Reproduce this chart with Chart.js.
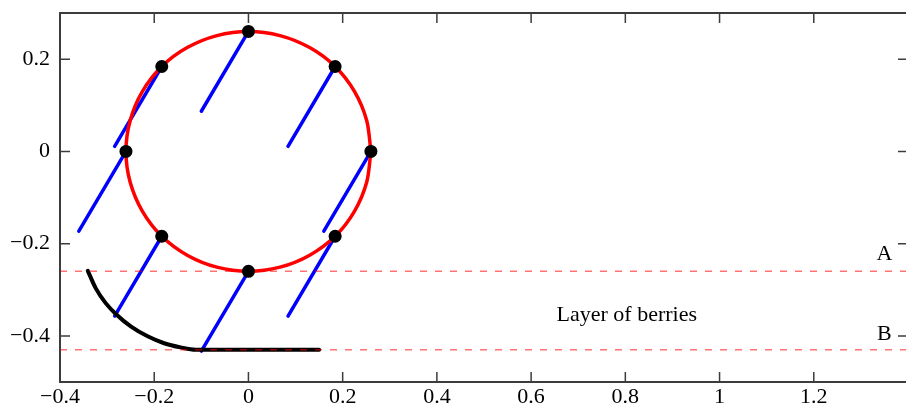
<!DOCTYPE html>
<html>
<head>
<meta charset="utf-8">
<title>Layer of berries</title>
<script src="https://cdn.jsdelivr.net/npm/chart.js@4.4.1/dist/chart.umd.min.js"></script>
<style>
  html, body { margin: 0; padding: 0; background: #fff; overflow: hidden; }
  #wrap { width: 906px; height: 408px; overflow: hidden; }
</style>
</head>
<body>
<div id="wrap"><canvas id="chart" width="916" height="408"></canvas></div>
<script>
// circle outline (radius 0.26), every 15 degrees
const circleX = [0.26, 0.251, 0.225, 0.184, 0.130, 0.067, 0, -0.067, -0.130, -0.184, -0.225, -0.251,
                 -0.26, -0.251, -0.225, -0.184, -0.130, -0.067, 0, 0.067, 0.130, 0.184, 0.225, 0.251, 0.26];
const circleY = [0, 0.067, 0.130, 0.184, 0.225, 0.251, 0.26, 0.251, 0.225, 0.184, 0.130, 0.067,
                 0, -0.067, -0.130, -0.184, -0.225, -0.251, -0.26, -0.251, -0.225, -0.184, -0.130, -0.067, 0];

// black dots on the circle
const dotX = [0.26, 0.184, 0, -0.184, -0.26, -0.184, 0, 0.184];
const dotY = [0, 0.184, 0.26, 0.184, 0, -0.184, -0.26, -0.184];

// blue sticks: from each dot down to the lower end
const stickEndX = [0.16, 0.084, -0.1, -0.284, -0.36, -0.284, -0.1, 0.084];
const stickEndY = [-0.173, 0.011, 0.087, 0.011, -0.173, -0.357, -0.433, -0.357];

// black curve and flat bottom
const curveX = [-0.341, -0.324, -0.303, -0.281, -0.249, -0.214, -0.179, -0.144, -0.112, 0.150];
const curveY = [-0.259, -0.297, -0.329, -0.353, -0.380, -0.401, -0.416, -0.425, -0.430, -0.430];

// dashed levels
const levelA = -0.26;
const levelB = -0.43;

// axes
const xTicks = [-0.4, -0.2, 0, 0.2, 0.4, 0.6, 0.8, 1, 1.2, 1.4];
const yTicks = [-0.4, -0.2, 0, 0.2];
const xMin = -0.4, xMax = 1.4, yMin = -0.5, yMax = 0.3;

// text labels
const labelText = ['A', 'B', 'Layer of berries'];
const labelX = [1.333, 1.334, 0.654];
const labelY = [-0.235, -0.408, -0.368];

const FAMILY = '"Liberation Serif", "Times New Roman", serif';

const toPoints = (xs, ys) => xs.map((x, i) => ({ x: x, y: ys[i] }));

const datasets = [];

// dots on top
datasets.push({
  data: toPoints(dotX, dotY),
  showLine: false,
  pointRadius: 6.5,
  pointBackgroundColor: '#000',
  pointBorderWidth: 0,
  order: 0
});

// red circle
datasets.push({
  data: toPoints(circleX, circleY),
  showLine: true,
  borderColor: '#ff0000',
  borderWidth: 3.5,
  tension: 0.3,
  pointRadius: 0,
  order: 1
});

// dashed lines A and B
[levelA, levelB].forEach(lv => {
  datasets.push({
    data: [{ x: xMin, y: lv }, { x: xMax, y: lv }],
    showLine: true,
    borderColor: 'rgba(255,0,0,0.55)',
    borderWidth: 1.5,
    borderDash: [7, 8],
    pointRadius: 0,
    order: 2
  });
});

// black curve
datasets.push({
  data: toPoints(curveX, curveY),
  showLine: true,
  borderColor: '#000',
  borderWidth: 4,
  borderCapStyle: 'round',
  cubicInterpolationMode: 'monotone',
  pointRadius: 0,
  order: 3
});

// blue sticks
dotX.forEach((x, i) => {
  datasets.push({
    data: [{ x: stickEndX[i], y: stickEndY[i] }, { x: x, y: dotY[i] }],
    showLine: true,
    borderColor: '#0000ff',
    borderWidth: 3.5,
    borderCapStyle: 'round',
    pointRadius: 0,
    order: 4
  });
});

// frame with inward ticks on all four sides
const framePlugin = {
  id: 'frame',
  afterDraw(chart) {
    const { ctx, chartArea: a, scales } = chart;
    ctx.save();
    ctx.strokeStyle = '#3c3c3c';
    ctx.lineWidth = 2;
    ctx.strokeRect(a.left, a.top, a.right - a.left, a.bottom - a.top);
    ctx.lineWidth = 1.5;
    ctx.beginPath();
    xTicks.forEach(v => {
      const px = scales.x.getPixelForValue(v);
      ctx.moveTo(px, a.bottom); ctx.lineTo(px, a.bottom - 10);
      ctx.moveTo(px, a.top); ctx.lineTo(px, a.top + 10);
    });
    yTicks.forEach(v => {
      const py = scales.y.getPixelForValue(v);
      ctx.moveTo(a.left, py); ctx.lineTo(a.left + 10, py);
      ctx.moveTo(a.right, py); ctx.lineTo(a.right - 10, py);
    });
    ctx.stroke();
    ctx.restore();
  }
};

// free text labels placed in data coordinates
const labelPlugin = {
  id: 'labels',
  afterDatasetsDraw(chart) {
    const { ctx, scales } = chart;
    ctx.save();
    ctx.font = '22px ' + FAMILY;
    ctx.fillStyle = '#000';
    ctx.textAlign = 'left';
    ctx.textBaseline = 'alphabetic';
    labelText.forEach((t, i) => {
      ctx.fillText(t, scales.x.getPixelForValue(labelX[i]), scales.y.getPixelForValue(labelY[i]));
    });
    ctx.restore();
  }
};

const fmt = v => {
  const s = String(Math.round(v * 10) / 10);
  return s.replace('-', '\u2212');
};

new Chart(document.getElementById('chart'), {
  type: 'scatter',
  data: { datasets },
  options: {
    responsive: false,
    animation: false,
    devicePixelRatio: 1,
    layout: { padding: { top: 13, right: 8, left: 0, bottom: 0 } },
    plugins: { legend: { display: false }, tooltip: { enabled: false } },
    scales: {
      x: {
        type: 'linear',
        min: xMin,
        max: xMax,
        afterBuildTicks: s => { s.ticks = xTicks.map(v => ({ value: v })); },
        afterFit: s => { s.height = 26; s.paddingLeft = 0; s.paddingRight = 0; },
        grid: { display: false, drawTicks: false },
        border: { display: false },
        ticks: {
          padding: 2,
          color: '#000',
          font: { family: FAMILY, size: 22 },
          maxRotation: 0,
          autoSkip: false,
          callback: v => (v > 1.39 ? '' : fmt(v))
        }
      },
      y: {
        type: 'linear',
        min: yMin,
        max: yMax,
        afterBuildTicks: s => { s.ticks = yTicks.map(v => ({ value: v })); },
        afterFit: s => { s.width = 60; s.paddingTop = 0; s.paddingBottom = 0; },
        grid: { display: false, drawTicks: false },
        border: { display: false },
        ticks: {
          padding: 10,
          color: '#000',
          font: { family: FAMILY, size: 22 },
          autoSkip: false,
          callback: v => fmt(v)
        }
      }
    }
  },
  plugins: [framePlugin, labelPlugin]
});
</script>
</body>
</html>
